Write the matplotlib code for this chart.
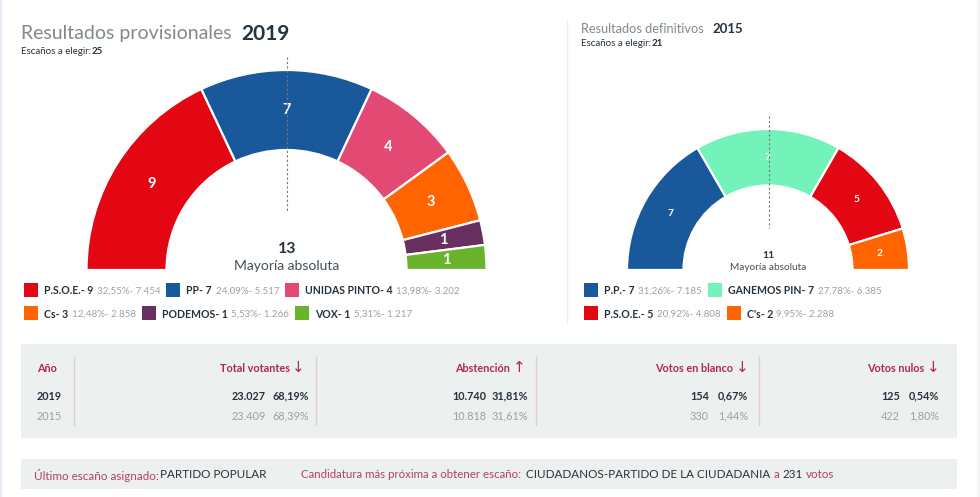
import matplotlib
matplotlib.use('Agg')
import matplotlib.pyplot as plt
from matplotlib.patches import Rectangle

plt.rcParams['font.family'] = ['Lato', 'DejaVu Sans']

# 2019
parties_19 = ['P.S.O.E.', 'PP', 'UNIDAS PINTO', 'Cs', 'PODEMOS', 'VOX']
seats_19 = [9, 7, 4, 3, 1, 1]
pct_19 = ['32,55%', '24,09%', '13,98%', '12,48%', '5,53%', '5,31%']
votes_19 = ['7.454', '5.517', '3.202', '2.858', '1.266', '1.217']
colors_19 = ['#e30613', '#19599b', '#e24a74', '#ff6400', '#692f61', '#69b32d']

# 2015
parties_15 = ['P.P.', 'GANEMOS PIN', 'P.S.O.E.', "C's"]
seats_15 = [7, 7, 5, 2]
pct_15 = ['31,26%', '27,78%', '20,92%', '9,95%']
votes_15 = ['7.185', '6.385', '4.808', '2.288']
colors_15 = ['#19599b', '#73f2b9', '#e30613', '#ff6400']

# tabla
years = ['2019', '2015']
table_headers = ['Total votantes', 'Abstención', 'Votos en blanco', 'Votos nulos']
table_arrows = ['↓', '↑', '↓', '↓']
table_counts = [['23.027', '10.740', '154', '125'], ['23.409', '10.818', '330', '422']]
table_pcts = [['68,19%', '31,81%', '0,67%', '0,54%'], ['68,39%', '31,61%', '1,44%', '1,80%']]

W, H = 980, 497
DARK = '#26323c'
GREY = '#a0a0a0'
CRIMSON = '#ad2a4f'
PANEL = '#ecf0ef'
TITLE = '#7f898f'

fig = plt.figure(figsize=(W / 100, H / 100), dpi=100, facecolor='white')

# capa de fondo y textos en pixeles
bg = fig.add_axes([0, 0, 1, 1], zorder=0)
bg.set_xlim(0, W)
bg.set_ylim(H, 0)
bg.axis('off')
top = fig.add_axes([0, 0, 1, 1], zorder=5)
top.set_xlim(0, W)
top.set_ylim(H, 0)
top.axis('off')
top.patch.set_alpha(0)


def put(x, y, s, size, color=DARK, weight='normal', ha='left'):
    return top.text(x, y, s, fontsize=size, color=color, fontweight=weight, ha=ha, va='center_baseline')


def chain(x, y, s, size, color=DARK, weight='normal'):
    t = put(x, y, s, size, color, weight)
    return t.get_window_extent(fig.canvas.get_renderer()).x1


def hemicycle(seats, colors, cx, cy, R, r, label_size):
    ax = fig.add_axes([(cx - R) / W, (H - cy - R) / H, 2 * R / W, 2 * R / H], zorder=2)
    wedges, texts = ax.pie(seats + [sum(seats)], colors=colors + ['none'], radius=1,
                           startangle=180, counterclock=False,
                           labels=[str(s) for s in seats] + [''], labeldistance=(R + r) / 2 / R,
                           wedgeprops=dict(width=1 - r / R, edgecolor='white', linewidth=1.6),
                           textprops=dict(color='white', fontsize=label_size, fontweight='bold'))
    wedges[-1].set_visible(False)
    for t in texts:
        t.set_ha('center')
        t.set_va('center')
    ax.set_xlim(-1, 1)
    ax.set_ylim(-1, 1)


def legend_row(x, y, names, seats, pcts, votes, colors, size, item_gap=6):
    for name, seat, pct, vote, color in zip(names, seats, pcts, votes, colors):
        bg.add_patch(Rectangle((x, y - 7), 14, 14, facecolor=color, edgecolor='none'))
        end = chain(x + 20, y, f'{name}- {seat}', size, DARK, 'bold')
        end = chain(end + 3.5, y, f'{pct}- {vote}', size - 0.6, GREY)
        x = end + item_gap


hemicycle(seats_19, colors_19, 286.5, 270, 200, 120, 10.5)
hemicycle(seats_15, colors_15, 768, 270, 141, 84.5, 7.5)

# lineas de mayoria
top.plot([287, 287], [57, 211], color='#777777', lw=0.8, ls=(0, (2, 2)))
top.plot([769, 769], [116, 228], color='#777777', lw=0.8, ls=(0, (2, 2)))

# titulos
put(21, 32, 'Resultados provisionales', 14.05, TITLE)
put(241, 32, '2019', 15, DARK, 'bold')
end = chain(21, 51, 'Escaños a elegir:', 7.0)
chain(end, 51, '25', 7.0, DARK, 'bold')
put(581, 28, 'Resultados definitivos', 9.2, TITLE)
put(712, 28, '2015', 9.5, DARK, 'bold')
end = chain(581, 42, 'Escaños a elegir:', 7.0)
chain(end, 42, '21', 7.0, DARK, 'bold')

top.text(287, 249, '13', fontsize=11.5, color=DARK, fontweight='bold', ha='center', va='center')
top.text(287, 266, 'Mayoría absoluta', fontsize=10, color='#444f58', ha='center', va='center')
top.text(768, 256, '11', fontsize=7.5, color=DARK, fontweight='bold', ha='center', va='center')
top.text(768, 268, 'Mayoría absoluta', fontsize=7.2, color='#444f58', ha='center', va='center')

# leyendas
legend_row(24, 290, parties_19[:3], seats_19[:3], pct_19[:3], votes_19[:3], colors_19[:3], 7.6)
legend_row(24, 313, parties_19[3:], seats_19[3:], pct_19[3:], votes_19[3:], colors_19[3:], 7.6)
legend_row(584, 290, parties_15[:2], seats_15[:2], pct_15[:2], votes_15[:2], colors_15[:2], 7.6)
legend_row(584, 313, parties_15[2:], seats_15[2:], pct_15[2:], votes_15[2:], colors_15[2:], 7.6)

# bordes y divisor
bg.add_patch(Rectangle((0, 0), 1.5, H, facecolor='#e6e6f4', edgecolor='none'))
bg.add_patch(Rectangle((977, 0), 3, H, facecolor='#f5f5f5', edgecolor='none'))
bg.plot([567, 567], [20, 322], color='#eeeeee', lw=1)

# tabla
bg.add_patch(Rectangle((21, 344), 936, 94, facecolor=PANEL, edgecolor='none'))
bg.add_patch(Rectangle((21, 459), 936, 30, facecolor=PANEL, edgecolor='none'))
for x in [74, 316, 535.5, 758.5]:
    bg.plot([x, x], [357, 425], color='#e2ccd4', lw=1)

header_right = [290, 510, 733, 924]
arrow_center = [298, 519, 742, 933]
count_right = [266, 486, 709, 900]
pct_right = [309, 528, 748, 939]
row_y = [395, 415]

put(37, 367, 'Año', 7.8, CRIMSON, 'bold')
for j, head in enumerate(table_headers):
    put(header_right[j], 367, head, 7.8, CRIMSON, 'bold', ha='right')
    top.text(arrow_center[j], 368, table_arrows[j], fontsize=11, color=CRIMSON, ha='center', va='center',
             family='DejaVu Sans')
for i, year in enumerate(years):
    color, weight = (DARK, 'bold') if i == 0 else (GREY, 'normal')
    put(37, row_y[i], year, 7.8, color, weight)
    for j in range(4):
        put(count_right[j], row_y[i], table_counts[i][j], 7.8, color, weight, ha='right')
        put(pct_right[j], row_y[i], table_pcts[i][j], 7.8, color, weight, ha='right')

# pie
put(34, 474, 'Último escaño asignado:', 8.4, '#b5405f')
put(160, 474, 'PARTIDO POPULAR', 8.4)
put(301, 474, 'Candidatura más próxima a obtener escaño:', 8.3, '#b5405f')
end = chain(526, 474, 'CIUDADANOS-PARTIDO DE LA CIUDADANIA', 8.4)
end = chain(end + 3, 474, 'a', 8.4, '#b5405f')
end = chain(end + 3, 474, '231', 8.4)
chain(end + 3, 474, 'votos', 8.4, '#b5405f')

fig.savefig('out.png', dpi=100)
